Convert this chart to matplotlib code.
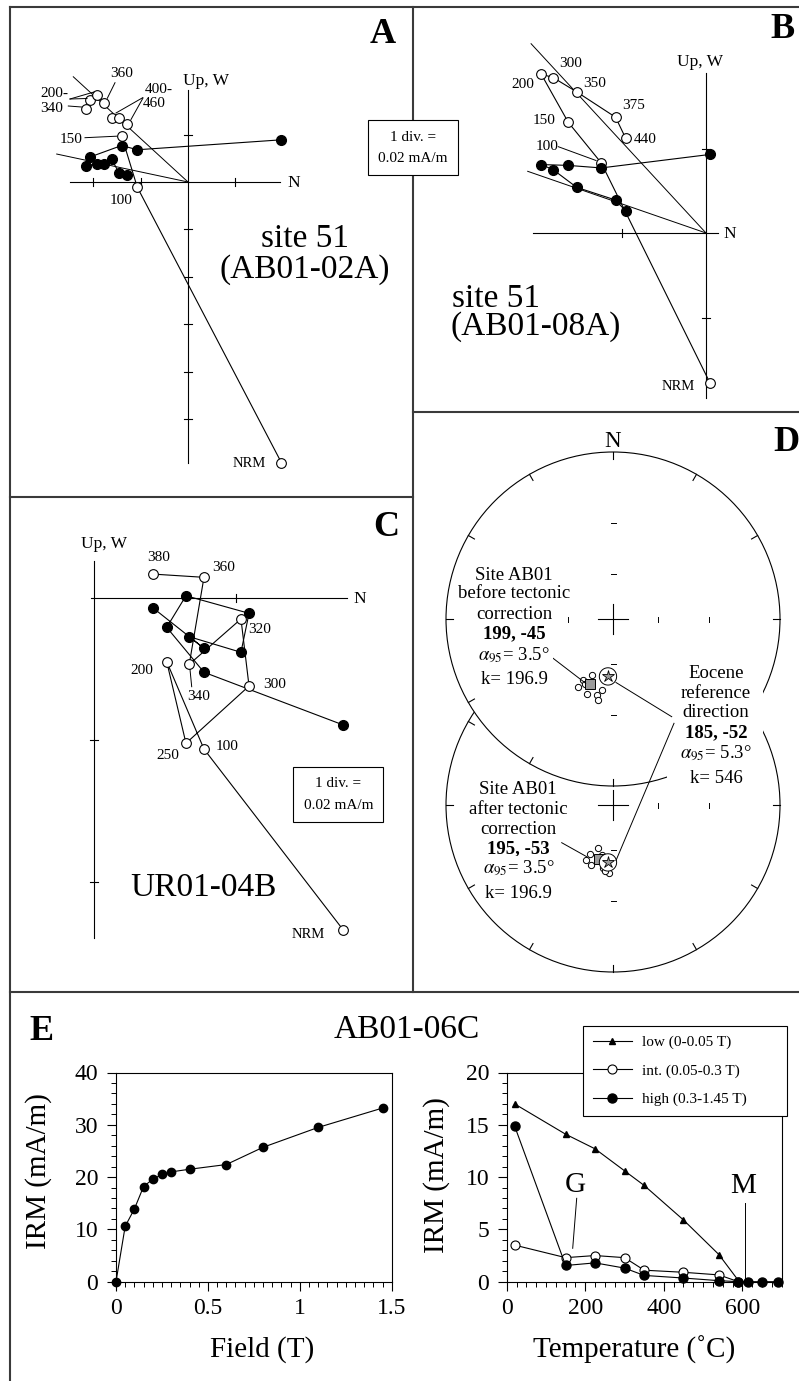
import numpy as np
import matplotlib
matplotlib.use('Agg')
import matplotlib.pyplot as plt
from matplotlib.transforms import Affine2D
from matplotlib.patches import Circle, Rectangle
from matplotlib.lines import Line2D
from matplotlib.ticker import FixedLocator, MultipleLocator

plt.rcParams['font.family'] = ['Liberation Serif', 'DejaVu Serif']
plt.rcParams['mathtext.fontset'] = 'stix'

# ======================= DATA =======================
# Panel A : site 51 (AB01-02A), components in divisions (1 div = 0.02 mA/m)
A_steps = ['NRM', '100', '150', '200', '300', '340', '360', '400', '440', '460']
A_north = [1.97, -1.07, -1.40, -2.06, -2.15, -1.91, -1.77, -1.61, -1.46, -1.28]
A_up    = [-5.92, -0.11, 0.97, 1.73, 1.55, 1.84, 1.67, 1.34, 1.34, 1.22]
A_west  = [0.89, 0.68, 0.77, 0.53, 0.34, 0.39, 0.39, 0.48, 0.20, 0.15]
A_fit_north = [-2.42, -2.77]
A_fit_comp  = [2.22, 0.59]

# Panel B : site 51 (AB01-08A)
B_steps = ['NRM', '100', '150', '200', '300', '350', '375', '440']
B_north = [0.05, -1.24, -1.63, -1.95, -1.81, -1.53, -1.07, -0.95]
B_up    = [-1.78, 0.83, 1.31, 1.88, 1.84, 1.67, 1.37, 1.12]
B_west  = [0.93, 0.77, 0.80, 0.81, 0.75, 0.54, 0.39, 0.26]
B_fit_north = [-2.07, -2.11]
B_fit_comp  = [2.24, 0.73]

# Panel C : UR01-04B
C_steps = ['NRM', '100', '200', '250', '300', '320', '340', '360', '380']
C_north = [1.757, 0.774, 0.511, 0.647, 1.092, 1.035, 0.670, 0.774, 0.412]
C_up    = [-2.341, -1.064, -0.447, -1.023, -0.619, -0.146, -0.466, 0.148, 0.171]
C_west  = [-0.894, -0.522, -0.205, 0.018, -0.106, -0.381, -0.271, -0.353, -0.066]

# Panel D : site AB01 directions (declination, inclination)
before_dec = [205.9, 200.6, 207.1, 199.1, 191.6, 188.7, 190.8, 203.2]
before_inc = [-45.6, -50.8, -40.8, -39.4, -40.4, -43.2, -37.4, -43.8]
after_dec  = [199.1, 206.6, 205.3, 189.0, 183.4, 187.2, 200.4, 193.0]
after_inc  = [-59.5, -49.8, -54.0, -48.2, -45.6, -46.8, -48.2, -56.0]
mean_before = (199, -45)
mean_after  = (195, -53)
eocene_ref  = (185, -52)
eocene_a95  = 5.3

# Panel E : IRM acquisition and thermal demagnetization of 3-axis IRM
field_T = [0, 0.05, 0.1, 0.15, 0.2, 0.25, 0.3, 0.4, 0.6, 0.8, 1.1, 1.45]
irm_acq = [0, 10.6, 13.9, 18.2, 19.6, 20.5, 21.0, 21.5, 22.4, 25.7, 29.5, 33.2]
temp_low  = [20, 150, 225, 300, 350, 450, 540, 590]
irm_low   = [17.0, 14.1, 12.7, 10.6, 9.2, 5.9, 2.6, 0.1]
temp_int  = [20, 150, 225, 300, 350, 450, 540, 590]
irm_int   = [3.5, 2.3, 2.5, 2.3, 1.1, 0.9, 0.65, 0.0]
temp_high = [20, 150, 225, 300, 350, 450, 540, 590, 615, 650, 690]
irm_high  = [14.9, 1.55, 1.8, 1.3, 0.6, 0.35, 0.1, 0.0, 0.0, 0.0, 0.0]
field_ticks = [0, 0.5, 1, 1.5]
field_ticklabels = ['0', '0.5', '1', '1.5']
temp_ticks = [0, 200, 400, 600]
legend_labels = ['low (0-0.05 T)', 'int. (0.05-0.3 T)', 'high (0.3-1.45 T)']

# ======================= LAYOUT =======================
W, H = 799, 1381
fig = plt.figure(figsize=(W / 100, H / 100), dpi=100)
PX = Affine2D().scale(1, -1).translate(0, H)   # reference pixel coords (y down)


def rect(x0, y0, x1, y1):
    return [x0 / W, 1 - y1 / H, (x1 - x0) / W, (y1 - y0) / H]


def txt(x, y, s, size, ha='left', va='baseline', weight='normal', **kw):
    return fig.text(x, y, s, transform=PX, fontsize=size, ha=ha, va=va,
                    fontweight=weight, zorder=10, **kw)


def leader(xs, ys, lw=0.7):
    fig.add_artist(Line2D(xs, ys, transform=PX, color='k', lw=lw, zorder=2))


# background axes with the panel frame
bg = fig.add_axes([0, 0, 1, 1], zorder=-1)
bg.set_xlim(0, W)
bg.set_ylim(H, 0)
bg.axis('off')
fc = '#3a3a3a'
flw = 1.5
bg.plot([10, 10], [7, H], color=fc, lw=flw)
bg.plot([10, W], [7, 7], color=fc, lw=flw)
bg.plot([413, 413], [7, 992], color=fc, lw=flw)
bg.plot([10, 413], [497, 497], color=fc, lw=flw)
bg.plot([413, W], [412, 412], color=fc, lw=flw)
bg.plot([10, W], [992, 992], color=fc, lw=flw)


def zij(box, origin, div, north, up, west, n_open_line, fit_n, fit_c,
        h_ext, v_ext, h_ticks, v_ticks):
    ax = fig.add_axes(rect(*box))
    ax.set_facecolor('none')
    ax.axis('off')
    x0, y0, x1, y1 = box
    ox, oy = origin
    lw = 0.8
    ax.plot(h_ext, [0, 0], color='k', lw=lw, zorder=1)
    ax.plot([0, 0], v_ext, color='k', lw=lw, zorder=1)
    t = 4.0 / div
    for x in h_ticks:
        ax.plot([x, x], [-t, t], color='k', lw=lw, zorder=1)
    for y in v_ticks:
        ax.plot([-t, t], [y, y], color='k', lw=lw, zorder=1)
    for fx, fy in zip(fit_n, fit_c):
        ax.plot([fx, 0], [fy, 0], color='k', lw=0.7, zorder=1)
    ax.plot(north[:n_open_line], up[:n_open_line], color='k', lw=lw, zorder=2)
    ax.plot(north, west, color='k', lw=lw, zorder=2)
    ax.plot(north, up, 'o', ms=7, mfc='white', mec='k', mew=0.8, zorder=3, clip_on=False)
    ax.plot(north, west, 'o', ms=7, mfc='k', mec='k', zorder=3, clip_on=False)
    ax.set_xlim((x0 - ox) / div, (x1 - ox) / div)
    ax.set_ylim((oy - y1) / div, (oy - y0) / div)
    return ax


# ---------------- Panel A ----------------
zij((10, 7, 413, 497), (188, 182), 47.4, A_north, A_up, A_west, 3,
    A_fit_north, A_fit_comp, (-2.49, 1.94), (-5.93, 1.94),
    [-2, -1, 1], [1, -1, -2, -3, -4, -5])
txt(183.3, 85, 'Up, W', 12.5)
txt(287, 187, 'N', 12.5)
txt(233, 466.7, 'NRM', 10.5)
for s, x, y in [('360', 110, 76.7), ('200-', 40, 96.7), ('340', 40, 111.7),
                ('400-', 145, 93), ('460', 142.7, 106.7), ('150', 60, 143.3),
                ('100', 110, 204)]:
    txt(x, y, s, 11)
leader([115, 107.3], [82.7, 98.3])
leader([70, 87], [99, 98.5])
leader([70, 94], [99, 92])
leader([68.3, 81.5], [106, 107])
leader([142.7, 116], [97.7, 113])
leader([143, 131], [98, 119.5])
leader([85, 116.5], [137.7, 136.2])
txt(305, 246.7, 'site 51', 24, ha='center')
txt(305, 278, '(AB01-02A)', 24, ha='center')
txt(383, 43, 'A', 26, ha='center', weight='bold')

# scale box A/B
fig.add_artist(Rectangle((368, 120), 90, 55, transform=PX, facecolor='white',
                         edgecolor='k', lw=0.8, zorder=5))
txt(413, 137.5, '1 div. =', 11, ha='center', va='center')
txt(413, 159, '0.02 mA/m', 11, ha='center', va='center')

# ---------------- Panel B ----------------
zij((413, 7, 799, 412), (706, 233), 84.5, B_north, B_up, B_west, 8,
    B_fit_north, B_fit_comp, (-2.05, 0.14), (-1.95, 1.89), [-1], [1, -1])
txt(676.7, 66, 'Up, W', 12.5)
txt(723.3, 238, 'N', 12.5)
txt(661.7, 390, 'NRM', 10.5)
for s, x, y in [('300', 559, 66.7), ('200', 511, 88.3), ('350', 582.7, 86.7),
                ('375', 621.7, 109.3), ('440', 633.3, 142.7), ('150', 532.7, 124),
                ('100', 535.7, 150)]:
    txt(x, y, s, 11)
leader([558.3, 596], [146.7, 160.5])
txt(451.7, 306.7, 'site 51', 24)
txt(451, 335, '(AB01-08A)', 24)
txt(782.5, 38, 'B', 26, ha='center', weight='bold')

# ---------------- Panel C ----------------
zij((10, 497, 413, 992), (94.3, 598.3), 141.7, C_north, C_up, C_west, 9,
    [], [], (-0.025, 1.78), (-2.40, 0.26), [1], [-1, -2])
txt(81, 548, 'Up, W', 12.5)
txt(353.3, 603, 'N', 12.5)
txt(291.7, 938, 'NRM', 10.5)
for s, x, y in [('380', 146.7, 561), ('360', 212.3, 571), ('320', 248.3, 633.3),
                ('200', 130.7, 674.3), ('340', 186.7, 700), ('300', 262.7, 687.7),
                ('250', 156, 759.3), ('100', 216, 750)]:
    txt(x, y, s, 11)
leader([191.7, 190], [686.7, 669.5])
txt(130, 896, 'UR01-04B', 24)
txt(386.7, 536, 'C', 26, ha='center', weight='bold')
fig.add_artist(Rectangle((293.3, 766.7), 90, 55, transform=PX, facecolor='white',
                         edgecolor='k', lw=0.8, zorder=5))
txt(338.3, 783.3, '1 div. =', 11, ha='center', va='center')
txt(338.3, 805.7, '0.02 mA/m', 11, ha='center', va='center')

# ---------------- Panel D (stereonets) ----------------
R = 167.0
CXp, CYp = 613.0, 619.0
axD = fig.add_axes(rect(413, 412, 799, 992))
axD.set_facecolor('none')
axD.axis('off')


def proj(dec, inc):
    dec = np.radians(np.asarray(dec, float))
    r = np.tan(np.radians(90 - np.abs(np.asarray(inc, float))) / 2)
    return r * np.sin(dec), r * np.cos(dec)


def cone(dec, inc, a95, n=72):
    d, i = np.radians(dec), np.radians(inc)
    m = np.array([np.cos(i) * np.cos(d), np.cos(i) * np.sin(d), np.sin(i)])
    u = np.cross(m, [0, 0, 1.0])
    u /= np.linalg.norm(u)
    v = np.cross(m, u)
    t = np.linspace(0, 2 * np.pi, n)
    a = np.radians(a95)
    p = np.cos(a) * m[:, None] + np.sin(a) * (np.cos(t) * u[:, None] + np.sin(t) * v[:, None])
    return proj(np.degrees(np.arctan2(p[1], p[0])), np.degrees(np.arcsin(p[2])))


def net(cy, z, sdec, sinc, mean):
    axD.add_patch(Circle((0, cy), 1, facecolor='white', edgecolor='k', lw=0.8, zorder=z))
    tl = 7 / R
    for a in np.radians(np.arange(0, 360, 30)):
        axD.plot([np.sin(a) * (1 - tl), np.sin(a)], [cy + np.cos(a) * (1 - tl), cy + np.cos(a)],
                 color='k', lw=0.8, zorder=z + 0.1)
    arm = 15 / R
    axD.plot([-arm, arm], [cy, cy], color='k', lw=0.8, zorder=z + 0.1)
    axD.plot([0, 0], [cy - arm, cy + arm], color='k', lw=0.8, zorder=z + 0.1)
    hl = 2.5 / R
    for rr in np.tan(np.radians([15, 30])):
        for sgn in (-1, 1):
            axD.plot([-hl, hl], [cy + sgn * rr] * 2, color='k', lw=0.7, zorder=z + 0.1)
            axD.plot([sgn * rr] * 2, [cy - hl, cy + hl], color='k', lw=0.7, zorder=z + 0.1)
    sx, sy = proj(sdec, sinc)
    axD.plot(sx, cy + sy, 'o', ms=4.5, mfc='white', mec='k', mew=0.7, zorder=z + 0.3)
    mx, my = proj(*mean)
    axD.plot([mx], [cy + my], 's', ms=6.5, mfc='#9a9a9a', mec='k', mew=0.7, zorder=z + 0.4)
    cxr, cyr = cone(eocene_ref[0], eocene_ref[1], eocene_a95)
    axD.fill(cxr, cy + cyr, facecolor='white', edgecolor='k', lw=0.7, zorder=z + 0.5)
    rx, ry = proj(*eocene_ref)
    axD.plot([rx], [cy + ry], '*', ms=9, mfc='#9a9a9a', mec='k', mew=0.6, zorder=z + 0.6)


net((CYp - 805.0) / R, 1, after_dec, after_inc, mean_after)
net(0.0, 3, before_dec, before_inc, mean_before)
axD.set_xlim((413 - CXp) / R, (799 - CXp) / R)
axD.set_ylim((CYp - 992) / R, (CYp - 412) / R)
axD.add_patch(Rectangle((667, 662), 96, 126, transform=PX, facecolor='white',
                        edgecolor='none', zorder=8))

txt(613, 446.7, 'N', 16.5, ha='center')
txt(786, 451, 'D', 26, ha='center', weight='bold')
fs = 13.5
wb = dict(facecolor='white', edgecolor='none', pad=2.2)
for s, y, w in [('Site AB01', 575, 'normal'), ('before tectonic', 594, 'normal'),
                ('correction', 614.3, 'normal'), ('199, -45', 633.3, 'bold'),
                (r'$\alpha_{95}$= 3.5°', 655, 'normal'), ('k= 196.9', 679, 'normal')]:
    txt(514, y, s, fs, ha='center', va='center', weight=w, bbox=wb)
for s, y, w in [('Eocene', 673.3, 'normal'), ('reference', 693.3, 'normal'),
                ('direction', 712.8, 'normal'), ('185, -52', 732.3, 'bold'),
                (r'$\alpha_{95}$= 5.3°', 753.3, 'normal'), ('k= 546', 778.3, 'normal')]:
    txt(716, y, s, fs, ha='center', va='center', weight=w)
for s, y, w in [('Site AB01', 790, 'normal'), ('after tectonic', 810, 'normal'),
                ('correction', 830, 'normal'), ('195, -53', 848.3, 'bold'),
                (r'$\alpha_{95}$= 3.5°', 868.3, 'normal'), ('k= 196.9', 893.3, 'normal')]:
    txt(518.3, y, s, fs, ha='center', va='center', weight=w, bbox=wb)
leader([551, 585.7], [656.7, 683.3])
leader([671.7, 616], [716.7, 682.5])
leader([674, 616], [723.3, 860.5])
leader([561.7, 586.7], [842.7, 856.7])

# ---------------- Panel E ----------------
txt(41.7, 1040, 'E', 26, ha='center', weight='bold')
txt(407, 1038, 'AB01-06C', 24, ha='center')


def style_axes(ax):
    for sp in ax.spines.values():
        sp.set_linewidth(0.8)
        sp.set_color('k')
    ax.tick_params(which='major', direction='out', length=6.7, width=0.8, labelsize=17)
    ax.tick_params(which='minor', direction='out', length=3.6, width=0.7)
    ax.tick_params(axis='y', which='major', pad=6)
    ax.tick_params(axis='x', which='major', pad=5)


ax1 = fig.add_axes(rect(116, 1072.5, 391.7, 1281.7))
ax1.plot(field_T, irm_acq, '-o', color='k', lw=0.8, ms=6, clip_on=False, zorder=3)
ax1.set_xlim(0, 1.5)
ax1.set_ylim(0, 40)
ax1.xaxis.set_major_locator(FixedLocator(field_ticks))
ax1.set_xticklabels(field_ticklabels)
ax1.xaxis.set_minor_locator(MultipleLocator(0.05))
ax1.yaxis.set_major_locator(MultipleLocator(10))
ax1.yaxis.set_minor_locator(MultipleLocator(2))
style_axes(ax1)
ax1.set_xlabel('Field (T)', fontsize=21)
ax1.set_ylabel('IRM (mA/m)', fontsize=21)
ax1.xaxis.set_label_coords(0.53, -0.262)
ax1.yaxis.set_label_coords(-0.233, 0.527)

ax2 = fig.add_axes(rect(506.7, 1072.5, 781.7, 1281.7))
h1, = ax2.plot(temp_low, irm_low, '-^', color='k', lw=0.8, ms=5, clip_on=False, zorder=3)
h2, = ax2.plot(temp_int, irm_int, '-o', color='k', mfc='white', mec='k', lw=0.8, ms=6.5,
               mew=0.8, clip_on=False, zorder=3)
h3, = ax2.plot(temp_high, irm_high, '-o', color='k', lw=0.8, ms=6.5, clip_on=False, zorder=4)
ax2.set_xlim(0, 700)
ax2.set_ylim(0, 20)
ax2.xaxis.set_major_locator(FixedLocator(temp_ticks))
ax2.xaxis.set_minor_locator(MultipleLocator(25))
ax2.yaxis.set_major_locator(MultipleLocator(5))
ax2.yaxis.set_minor_locator(MultipleLocator(1))
style_axes(ax2)
ax2.set_xlabel('Temperature (˚C)', fontsize=21)
ax2.set_ylabel('IRM (mA/m)', fontsize=21)
ax2.xaxis.set_label_coords(0.463, -0.258)
ax2.yaxis.set_label_coords(-0.206, 0.51)
ax2.text(575, 1191.7, 'G', transform=PX, fontsize=21, ha='center', va='baseline')
ax2.text(742.7, 1193, 'M', transform=PX, fontsize=21, ha='center', va='baseline')
ax2.plot([576.7, 572.7], [1198.3, 1248.3], transform=PX, color='k', lw=0.7)
ax2.plot([745, 745], [1203.3, 1278.3], transform=PX, color='k', lw=0.7)

leg = ax2.legend([h1, h2, h3], legend_labels, loc='upper left',
                 bbox_to_anchor=(582.7 / W, 1 - 1025.7 / H, (787.3 - 582.7) / W, 0),
                 bbox_transform=fig.transFigure, mode='expand', fontsize=11,
                 frameon=True, fancybox=False, framealpha=1, edgecolor='k',
                 borderpad=0.65, labelspacing=0.95, handlelength=2.55,
                 handletextpad=0.7, borderaxespad=0)
leg.get_frame().set_linewidth(0.8)
leg.set_zorder(20)

fig.savefig('out.png', dpi=100)
